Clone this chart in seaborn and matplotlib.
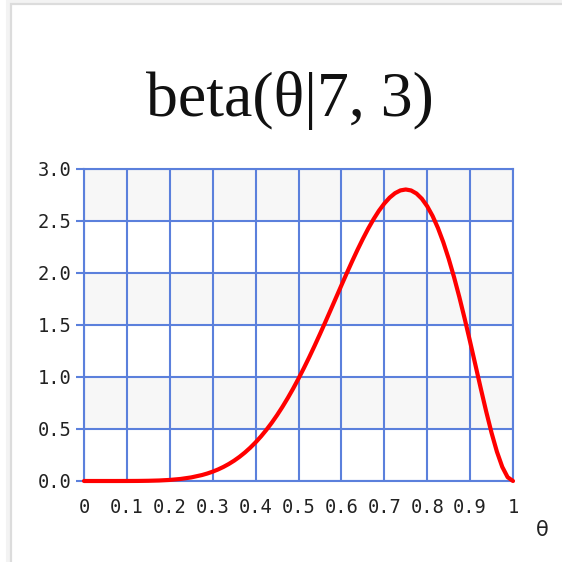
import numpy as np
import pandas as pd
import matplotlib
matplotlib.use("Agg")
import matplotlib.pyplot as plt
from matplotlib.patches import Rectangle
import seaborn as sns

# Density of beta(theta | 7, 3); denser sampling where the curve bends
theta = [0.0000, 0.0250, 0.0500, 0.0750, 0.1000, 0.1250, 0.1500, 0.1750, 0.2000, 0.2250,
         0.2500, 0.2750, 0.2875, 0.3000, 0.3125, 0.3250, 0.3375, 0.3500, 0.3625, 0.3750,
         0.3875, 0.4000, 0.4125, 0.4250, 0.4375, 0.4500, 0.4625, 0.4750, 0.4875, 0.5000,
         0.5125, 0.5250, 0.5375, 0.5500, 0.5625, 0.5750, 0.5875, 0.6000, 0.6125, 0.6250,
         0.6375, 0.6500, 0.6625, 0.6750, 0.6875, 0.7000, 0.7125, 0.7250, 0.7375, 0.7500,
         0.7625, 0.7750, 0.7875, 0.8000, 0.8125, 0.8250, 0.8375, 0.8500, 0.8625, 0.8750,
         0.8875, 0.9000, 0.9125, 0.9250, 0.9375, 0.9500, 0.9625, 0.9750, 0.9875, 1.0000]
density = [0.0000, 0.0000, 0.0000, 0.0000, 0.0002, 0.0007, 0.0021, 0.0049, 0.0103, 0.0196,
           0.0346, 0.0573, 0.0722, 0.0900, 0.1109, 0.1353, 0.1635, 0.1957, 0.2324, 0.2737,
           0.3201, 0.3716, 0.4285, 0.4910, 0.5591, 0.6330, 0.7126, 0.7978, 0.8885, 0.9844,
           1.0852, 1.1905, 1.2999, 1.4127, 1.5279, 1.6451, 1.7632, 1.8812, 1.9979, 2.1122,
           2.2228, 2.3280, 2.4270, 2.5176, 2.5986, 2.6680, 2.7251, 2.7675, 2.7940, 2.8030,
           2.7936, 2.7643, 2.7141, 2.6420, 2.5488, 2.4333, 2.2962, 2.1380, 1.9614, 1.7671,
           1.5585, 1.3390, 1.1138, 0.8879, 0.6683, 0.4631, 0.2818, 0.1353, 0.0365, 0.0000]

x_ticks = [0.0, 0.1, 0.2, 0.3, 0.4, 0.5, 0.6, 0.7, 0.8, 0.9, 1.0]
x_tick_labels = ["0", "0.1", "0.2", "0.3", "0.4", "0.5", "0.6", "0.7", "0.8", "0.9", "1"]
y_ticks = [0.0, 0.5, 1.0, 1.5, 2.0, 2.5, 3.0]
y_tick_labels = ["0.0", "0.5", "1.0", "1.5", "2.0", "2.5", "3.0"]
shaded_bands = [(0.5, 1.0), (1.5, 2.0), (2.5, 3.0)]

df = pd.DataFrame({"theta": theta, "density": density})

sns.set_theme(style="white")
grid_blue = "#5b80dc"

fig = plt.figure(figsize=(5.62, 5.62), dpi=100)
fig.patch.set_facecolor("white")

# page frame: thin grey edge along the top and left, with a soft shadow
fig.add_artist(Rectangle((7.5 / 562, -0.05), 1.2, 1.05 - 1.5 / 562,
                         transform=fig.transFigure, fill=False,
                         edgecolor="#f3f3f3", linewidth=3))
fig.add_artist(Rectangle((10.5 / 562, -0.05), 1.2, 1.05 - 3.5 / 562,
                         transform=fig.transFigure, fill=False,
                         edgecolor="#dcdcdc", linewidth=1.6))

ax = fig.add_axes([84 / 562, 1 - 481 / 562, (513 - 84) / 562, (481 - 169) / 562])
ax.set_facecolor("white")

for lo, hi in shaded_bands:
    ax.axhspan(lo, hi, color="#f7f7f7", zorder=0, linewidth=0)

sns.lineplot(data=df, x="theta", y="density", ax=ax, color="#ff0000",
             linewidth=3.0, zorder=5, clip_on=False)
for ln in ax.get_lines():
    ln.set_solid_joinstyle("round")
    ln.set_solid_capstyle("round")

ax.set_xlim(0, 1)
ax.set_ylim(0, 3)
ax.set_xticks(x_ticks)
ax.set_yticks(y_ticks)

mono = "DejaVu Sans Mono"
ax.set_xticklabels(x_tick_labels, fontfamily=mono, fontsize=13.5, color="#222222")
ax.set_yticklabels(y_tick_labels, fontfamily=mono, fontsize=13.5, color="#222222")

ax.grid(True, color=grid_blue, linewidth=1.5, zorder=1)
ax.set_axisbelow(False)
for s in ax.spines.values():
    s.set_color(grid_blue)
    s.set_linewidth(1.5)
    s.set_zorder(2)

ax.tick_params(axis="y", length=6, width=1.5, color=grid_blue, pad=3, left=True)
ax.tick_params(axis="x", length=0, pad=12, bottom=False)

ax.set_xlabel("")
ax.set_ylabel("")

fig.text(290 / 562, 1 - 100 / 562, "beta(θ|7, 3)", ha="center", va="center",
         fontfamily="Liberation Serif", fontsize=46, color="#111111")
fig.text(542 / 562, 1 - 530 / 562, "θ", ha="center", va="center",
         fontfamily="DejaVu Sans", fontsize=15, color="#222222")

fig.savefig("out.png", dpi=100, facecolor="white")
